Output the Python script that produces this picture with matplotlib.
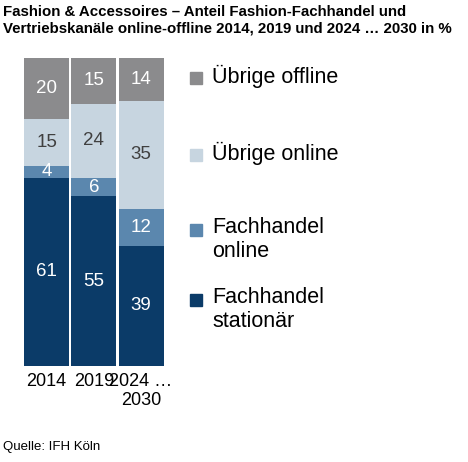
import numpy as np
import matplotlib.pyplot as plt

years = ["2014", "2019", "2024 …\n2030"]
stationaer = [61, 55, 39]
fh_online = [4, 6, 12]
ueb_online = [15, 24, 35]
ueb_offline = [20, 15, 14]

series = [stationaer, fh_online, ueb_online, ueb_offline]
names = ["Fachhandel\nstationär", "Fachhandel\nonline", "Übrige online", "Übrige offline"]
colours = ["#0b3b68", "#5b87ae", "#c7d5e0", "#8b8b8d"]
text_col = ["white", "white", "#404040", "white"]

plt.rcParams['font.family'] = ['Liberation Sans', 'DejaVu Sans']
fig = plt.figure(figsize=(4.68, 4.62), dpi=100)
ax = fig.add_axes([0.049, 0.208, 0.303, 0.667])

x = np.arange(len(years))
bottom = np.zeros(len(years))
for vals, col, tc in zip(series, colours, text_col):
    ax.bar(x, vals, bottom=bottom, width=0.95, color=col)
    for xi, b, v in zip(x, bottom, vals):
        ax.text(xi, b + v / 2, str(v), ha='center', va='center', color=tc, fontsize=13.5)
    bottom += vals

ax.set_xlim(-0.5, 2.5)
ax.set_ylim(0, 100)
ax.set_xticks(x)
ax.set_xticklabels(years, fontsize=13)
ax.tick_params(length=0, pad=5)
ax.set_yticks([])
for s in ax.spines.values():
    s.set_visible(False)

# legend by hand
leg_y = [1 - 300 / 462, 1 - 230 / 462, 1 - 155 / 462, 1 - 78 / 462]
for name, col, y in zip(names, colours, leg_y):
    fig.patches.append(plt.Rectangle((190 / 468, y - 0.013), 0.026, 0.026,
                                     transform=fig.transFigure, color=col))
    fig.text(212 / 468, y + 0.028, name, fontsize=15.5, va='top', linespacing=1.2)

fig.text(0.006, 0.99, "Fashion & Accessoires – Anteil Fashion-Fachhandel und\n"
         "Vertriebskanäle online-offline 2014, 2019 und 2024 … 2030 in %",
         fontsize=10.8, fontweight='bold', va='top', linespacing=1.25)
fig.text(0.006, 0.02, "Quelle: IFH Köln", fontsize=9.5, va='bottom')

plt.savefig('out.png', dpi=100)
